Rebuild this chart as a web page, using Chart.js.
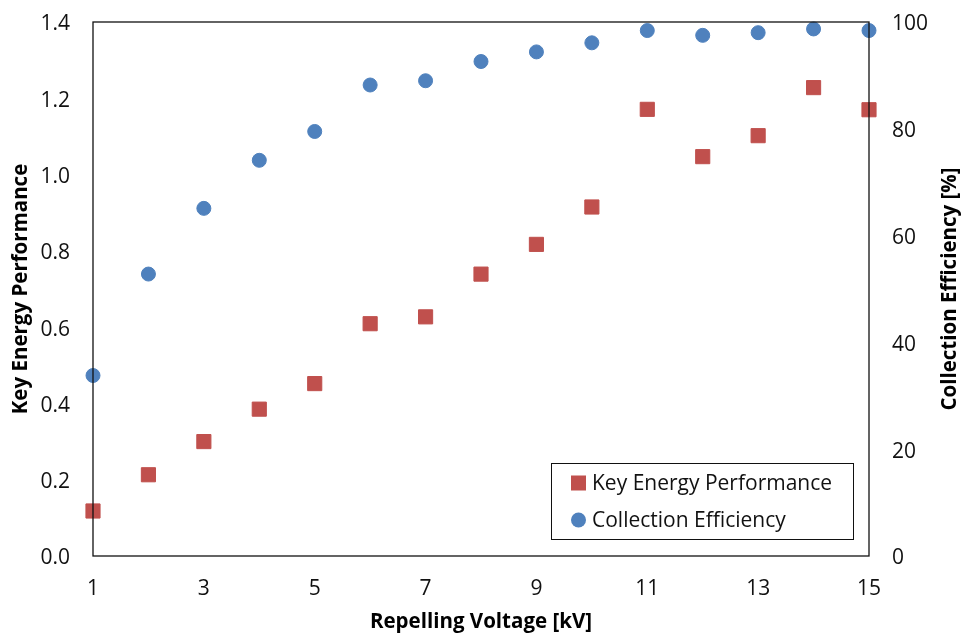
<!DOCTYPE html>
<html>
<head>
<meta charset="utf-8">
<script src="https://cdn.jsdelivr.net/npm/chart.js@4/dist/chart.umd.min.js"></script>
<style>
  html, body { margin: 0; padding: 0; background: #fff; }
  #wrap { width: 964px; height: 635px; }
</style>
</head>
<body>
<div id="wrap"><canvas id="c" width="964" height="635"></canvas></div>
<script>
// Repelling voltage settings [kV]
const voltages = [1, 2, 3, 4, 5, 6, 7, 8, 9, 10, 11, 12, 13, 14, 15];
// Key energy performance (left axis)
const keyEnergy = [0.118, 0.213, 0.300, 0.385, 0.452, 0.609, 0.627, 0.739, 0.817, 0.915, 1.171, 1.047, 1.102, 1.228, 1.170];
// Collection efficiency in percent (right axis)
const collection = [33.8, 52.8, 65.1, 74.1, 79.5, 88.2, 89.0, 92.6, 94.4, 96.1, 98.4, 97.5, 98.0, 98.7, 98.4];

const seriesNames = ['Key Energy Performance', 'Collection Efficiency'];
const RED = '#C0504D';
const BLUE = '#4F81BD';
const FONT = '"Open Sans", Lato, sans-serif';
const TITLE_SIZE = 20.5;

const toPoints = ys => voltages.map((v, i) => ({ x: v, y: ys[i] }));

// Frame around the plotting area, right-axis title and in-plot legend
const decorations = {
  id: 'decorations',
  afterDraw(chart) {
    const { ctx, chartArea: a } = chart;
    ctx.save();
    ctx.strokeStyle = '#111';
    ctx.lineWidth = 1.3;
    ctx.strokeRect(a.left, a.top, a.right - a.left, a.bottom - a.top);

    // right axis title, reading bottom to top
    ctx.save();
    ctx.translate(950, (a.top + a.bottom) / 2);
    ctx.rotate(-Math.PI / 2);
    ctx.font = 'bold ' + TITLE_SIZE + 'px ' + FONT;
    ctx.fillStyle = '#000';
    ctx.textAlign = 'center';
    ctx.textBaseline = 'middle';
    ctx.fillText('Collection Efficiency [%]', 0, 0);
    ctx.restore();

    // legend box
    const bx = 551, by = 463, bw = 302, bh = 76;
    ctx.fillStyle = '#fff';
    ctx.fillRect(bx, by, bw, bh);
    ctx.strokeStyle = '#111';
    ctx.lineWidth = 1;
    ctx.strokeRect(bx + 0.5, by + 0.5, bw, bh);
    ctx.font = '21px ' + FONT;
    ctx.textAlign = 'left';
    ctx.textBaseline = 'middle';
    const rows = [483, 520];
    chart.data.datasets.forEach((ds, i) => {
      const cy = rows[i];
      ctx.fillStyle = ds.backgroundColor;
      if (ds.pointStyle === 'rect') {
        ctx.fillRect(571, cy - 7.5, 15, 15);
      } else {
        ctx.beginPath();
        ctx.arc(578.5, cy, 7.5, 0, Math.PI * 2);
        ctx.fill();
      }
      ctx.fillStyle = '#111';
      ctx.fillText(ds.label, 592, cy + 1);
    });
    ctx.restore();
  }
};

new Chart(document.getElementById('c'), {
  type: 'scatter',
  data: {
    datasets: [
      {
        label: seriesNames[0],
        data: toPoints(keyEnergy),
        yAxisID: 'y',
        pointStyle: 'rect',
        pointRadius: 10,
        pointBorderWidth: 1,
        backgroundColor: RED,
        borderColor: RED,
        clip: false
      },
      {
        label: seriesNames[1],
        data: toPoints(collection),
        yAxisID: 'y2',
        pointStyle: 'circle',
        pointRadius: 7,
        pointBorderWidth: 1,
        backgroundColor: BLUE,
        borderColor: BLUE,
        clip: false
      }
    ]
  },
  options: {
    responsive: false,
    animation: false,
    layout: { padding: { top: 22, left: 0, right: 0, bottom: 0 } },
    plugins: { legend: { display: false }, tooltip: { enabled: false } },
    scales: {
      x: {
        type: 'linear',
        min: 1, max: 15,
        grid: { display: false, drawTicks: false },
        border: { display: false },
        ticks: { stepSize: 2, padding: 20, color: '#111', font: { family: FONT, size: 21 } },
        title: { display: true, text: 'Repelling Voltage [kV]', color: '#000',
                 font: { family: FONT, size: TITLE_SIZE, weight: 'bold' }, padding: { top: 0, bottom: 1 } },
        afterFit(s) { s.height = 79; s.paddingLeft = 0; s.paddingRight = 0; }
      },
      y: {
        position: 'left',
        min: 0, max: 1.4,
        grid: { display: false, drawTicks: false },
        border: { display: false },
        ticks: { stepSize: 0.2, padding: 23, labelOffset: 2.5, color: '#111', font: { family: FONT, size: 21 },
                 callback: v => v.toFixed(1) },
        title: { display: true, text: 'Key Energy Performance', color: '#000',
                 font: { family: FONT, size: TITLE_SIZE, weight: 'bold' }, padding: { top: 9, bottom: 0 } },
        afterFit(s) { s.width = 93; s.paddingTop = 0; s.paddingBottom = 0; }
      },
      y2: {
        position: 'right',
        min: 0, max: 100,
        grid: { display: false, drawTicks: false },
        border: { display: false },
        ticks: { stepSize: 20, padding: 23, labelOffset: 2.5, color: '#111', font: { family: FONT, size: 21 } },
        afterFit(s) { s.width = 95; s.paddingTop = 0; s.paddingBottom = 0; }
      }
    }
  },
  plugins: [decorations]
});
</script>
</body>
</html>
